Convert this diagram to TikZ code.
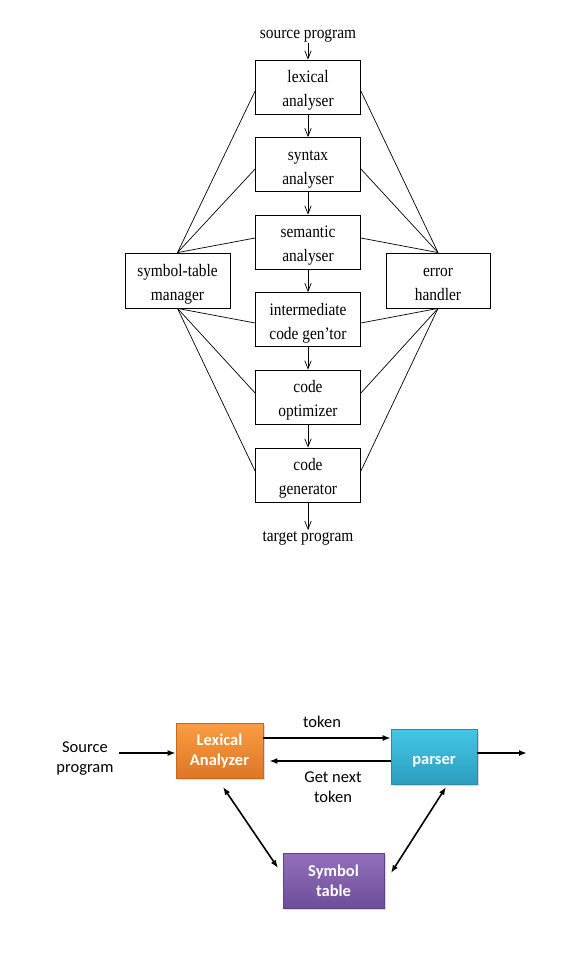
\documentclass[tikz,border=0pt]{standalone}
\usepackage{fontspec}
\setmainfont{Liberation Serif}[FakeStretch=0.88]
\newfontfamily\carlitofont{Carlito}
\usetikzlibrary{arrows.meta,shadows}
\definecolor{orT}{HTML}{F99D42}
\definecolor{orB}{HTML}{DE7626}
\definecolor{orD}{HTML}{C8671E}
\definecolor{cyT}{HTML}{44C6E6}
\definecolor{cyB}{HTML}{2C9EBE}
\definecolor{cyD}{HTML}{278DAA}
\definecolor{puT}{HTML}{9470BC}
\definecolor{puB}{HTML}{6E4E98}
\definecolor{puD}{HTML}{604386}
\newcommand\phtext[2]{\raisebox{-3pt}[\height][\depth]{\begin{tabular}{@{}c@{}}#1\\#2\end{tabular}}}
\begin{document}
\begin{tikzpicture}[x=1pt,y=-1pt,
  phase/.style={draw,line width=0.8pt,minimum width=105pt,minimum height=54pt,
     font=\fontsize{17.5}{24}\selectfont,inner sep=0pt},
  lbl/.style={font=\fontsize{17.5}{24}\selectfont,inner sep=1pt},
  flow/.style={line width=0.7pt,-{Straight Barb[length=8pt,width=6.5pt]}},
  link/.style={line width=0.7pt},
  cbox/.style={minimum height=55pt,align=center,text=white,font=\carlitofont\bfseries\fontsize{16.5}{20}\selectfont,
     inner sep=0pt,line width=0.6pt,drop shadow={shadow xshift=1.5pt,shadow yshift=-1.5pt,opacity=0.3}},
  ctext/.style={font=\carlitofont\fontsize{16.5}{20}\selectfont,inner sep=1pt,align=center},
  carr/.style={line width=1.6pt,-{Latex[length=8pt,width=6pt]}},
  cdbl/.style={line width=1.6pt,{Latex[length=8pt,width=6pt]}-{Latex[length=8pt,width=6pt]}}]
\useasboundingbox (0,0) rectangle (586,971);
% ---------- top diagram ----------
\node[lbl] (src) at (308,35.5) {source program};
\node[phase] (lex) at (308,87) {\phtext{lexical}{analyser}};
\node[phase] (syn) at (308,164.5) {\phtext{syntax}{analyser}};
\node[phase] (sem) at (308,242) {\phtext{semantic}{analyser}};
\node[phase] (int) at (308,319.5) {\phtext{intermediate}{code gen'tor}};
\node[phase] (opt) at (308,397) {\phtext{code}{optimizer}};
\node[phase] (gen) at (308,475) {\phtext{code}{generator}};
\node[lbl] (tgt) at (308,538) {target program};
\node[phase,minimum width=105pt,minimum height=55pt] (sym) at (177.5,280.5) {\phtext{symbol-table}{manager}};
\node[phase,minimum width=104pt,minimum height=55pt] (err) at (438,280.5) {\phtext{error}{handler}};
\draw[flow] (src) -- (lex);
\draw[flow] (lex) -- (syn);
\draw[flow] (syn) -- (sem);
\draw[flow] (sem) -- (int);
\draw[flow] (int) -- (opt);
\draw[flow] (opt) -- (gen);
\draw[flow] (gen) -- (tgt);
\foreach \n/\s in {lex/-4,syn/-4.5,sem/4}{
  \draw[link] (sym.north) -- ([yshift=\s pt]\n.west);
  \draw[link] (err.north) -- ([yshift=\s pt]\n.east);}
\foreach \n/\s in {int/-3.5,opt/4,gen/4}{
  \draw[link] (sym.south) -- ([yshift=\s pt]\n.west);
  \draw[link] (err.south) -- ([yshift=\s pt]\n.east);}
% ---------- bottom diagram ----------
\node[cbox,minimum width=87pt,draw=orD,top color=orT,bottom color=orB] (lexA) at (219.5,750.5) {Lexical\\Analyzer};
\node[cbox,minimum width=86pt,draw=cyD,top color=cyT,bottom color=cyB,text height=18pt] (par) at (434,756.5) {parser};
\node[cbox,minimum width=101pt,draw=puD,top color=puT,bottom color=puB] (stab) at (333.5,880.5) {Symbol\\table};
\node[ctext] (srcB) at (85,758.5) {Source\\program};
\node[ctext] (tok) at (322,722) {token};
\node[ctext] (gnt) at (333,787.5) {Get next\\token};
\coordinate (outB) at (527,753);
\coordinate (la1) at (223,787);
\coordinate (la2) at (278,868);
\coordinate (pa1) at (446,787);
\coordinate (pa2) at (391,873);
\draw[carr] (119,753) -- (lexA.west |- 0,753);
\draw[carr] ([yshift=12.5pt]lexA.east) -- (par.west |- 0,738);
\draw[carr] ([yshift=-4.5pt]par.west) -- ([xshift=6pt,yshift=-10.5pt]lexA.east);
\draw[carr] (par.east |- 0,753) -- (outB);
\draw[cdbl] (la1) -- (la2);
\draw[cdbl] (pa1) -- (pa2);
\end{tikzpicture}
\end{document}
